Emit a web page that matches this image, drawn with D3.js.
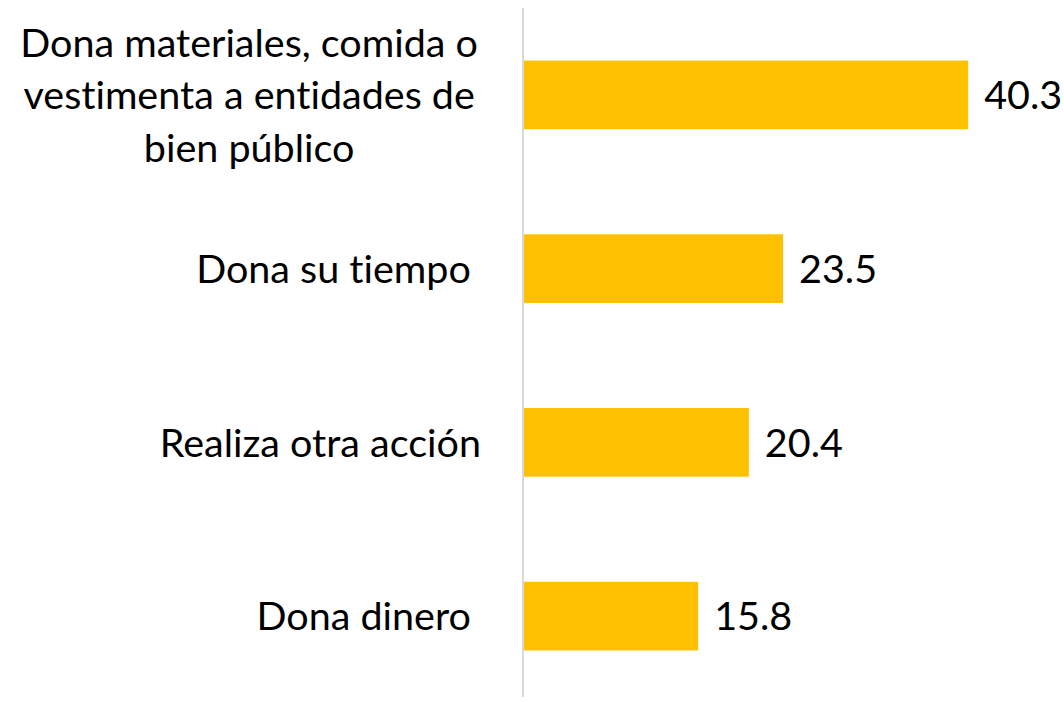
<!DOCTYPE html>
<html>
<head>
<meta charset="utf-8">
<script src="https://cdn.jsdelivr.net/npm/d3@7"></script>
<style>
  html, body { margin: 0; padding: 0; background: #fff; }
  svg { display: block; }
  text { font-family: Lato, "Open Sans", sans-serif; fill: #000; white-space: pre; font-variant-ligatures: none; font-feature-settings: "liga" 0, "clig" 0; }
</style>
</head>
<body>
<svg id="chart" width="1064" height="702"></svg>
<script>
const categories = [
  ["Dona materiales, comida o", "vestimenta a entidades de", "bien público"],
  ["Dona su tiempo "],
  ["Realiza otra acción"],
  ["Dona dinero "]
];
const values = [40.3, 23.5, 20.4, 15.8];
const valueLabels = ["40.3", "23.5", "20.4", "15.8"];

const W = 1064, H = 702;
const svg = d3.select("#chart");
const fontSize = 39.5;
const lineGap = 52.5;

const x = d3.scaleLinear().domain([0, 45]).range([524, 1020]);
const y = d3.scaleBand().domain(d3.range(categories.length)).range([8, 703]).paddingInner(0.605).paddingOuter(0.3025);

// axis line
svg.append("line")
  .attr("x1", 523).attr("x2", 523)
  .attr("y1", 8).attr("y2", 697)
  .attr("stroke", "#d9d9d9").attr("stroke-width", 2);

// bars
svg.selectAll("rect.bar").data(values).join("rect")
  .attr("class", "bar")
  .attr("x", x(0))
  .attr("y", (d, i) => y(i))
  .attr("width", d => x(d) - x(0))
  .attr("height", y.bandwidth())
  .attr("fill", "#FFC000");

// value labels
svg.selectAll("text.val").data(values).join("text")
  .attr("class", "val")
  .attr("x", d => x(d) + 16)
  .attr("y", (d, i) => y(i) + y.bandwidth() / 2)
  .attr("dy", "0.36em")
  .attr("font-size", fontSize)
  .text((d, i) => valueLabels[i]);

// category labels
const labelRight = 481;
categories.forEach((lines, i) => {
  const cy = y(i) + y.bandwidth() / 2;
  const g = svg.append("g");
  const texts = lines.map((ln, j) => g.append("text")
    .attr("font-size", fontSize)
    .attr("y", cy + (j - (lines.length - 1) / 2) * lineGap)
    .attr("dy", "0.36em")
    .text(ln));
  if (lines.length === 1) {
    texts[0].attr("x", labelRight).attr("text-anchor", "end");
  } else {
    const maxW = d3.max(texts, t => t.node().getComputedTextLength());
    texts.forEach(t => t.attr("x", labelRight - 3 - maxW / 2).attr("text-anchor", "middle"));
  }
});
</script>
</body>
</html>
